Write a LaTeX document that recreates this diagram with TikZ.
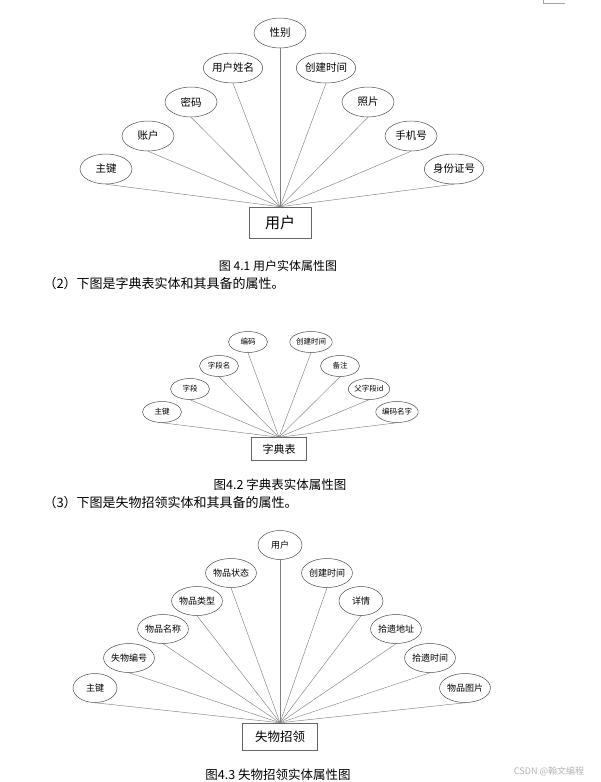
\documentclass[tikz,border=0pt]{standalone}
\usepackage{fontspec}
\setmainfont{Noto Sans CJK SC}
\usetikzlibrary{shapes.geometric}

\tikzset{
    attr/.style={ellipse, draw=black!70, line width=0.5pt, inner sep=0pt},
    ent/.style={rectangle, draw=black!60, line width=0.5pt, inner sep=0pt},
    link/.style={draw=black!50, line width=0.45pt},
    fs/.style={font=\fontsize{#1}{#1}\selectfont}
}

\begin{document}
\begin{tikzpicture}[x=1pt, y=-1pt]
        \useasboundingbox (0,0) rectangle (601,782);
        % page corner
        \path[draw, black!35](543,0)--(543,3)--(565,3);
        % user entity
        \node[ent, fs=15, minimum width=62pt, minimum height=31pt](user)at(280,222.5){用户};
        \foreach \n/\px/\py/\t in {pk/106/169/主键, acct/148/136/账户, pwd/191/102/密码,
            uname/233/68/用户姓名, sex/280/33/性别, ctime/326/68/创建时间,
            photo/368/102/照片, phone/411/136/手机号, idno/454/169/身份证号}
        {
            \node[attr, fs=10.5, minimum width=52pt, minimum height=30pt](u-\n)at(\px,\py){\t};
            \path[link](u-\n.south)to(user.north);
        }
        \node[fs=12](cap1)at(278,266){图 4.1 用户实体属性图};
        \node[fs=13, anchor=west](txt2)at(40,284){（2）下图是字典表实体和其具备的属性。};
        % dictionary entity
        \node[ent, fs=11, minimum width=55pt, minimum height=23pt](dict)at(279,449){字典表};
        \foreach \n/\px/\py/\t in {pk/162/412/主键, fld/190/389/字段, fname/219/366/字段名,
            code/248/342/编码, ctime/311/342/创建时间, note/340/366/备注,
            pid/369/389/父字段id, cname/397/412/编码名字}
        {
            \node[attr, fs=7.5, minimum width=39pt, minimum height=21pt](d-\n)at(\px,\py){\t};
            \path[link](d-\n.south)to(dict.north);
        }
        \node[fs=12.5](cap2)at(280,485){图4.2 字典表实体属性图};
        \node[fs=13, anchor=west](txt3)at(40,503){（3）下图是失物招领实体和其具备的属性。};
        % lost and found entity
        \node[ent, fs=12.5, minimum width=75pt, minimum height=27pt](lost)at(280,736.5){失物招领};
        \foreach \n/\px/\py/\t in {pk/95/688/主键, no/129/658/失物编号, gname/163/629/物品名称,
            gtype/197/601/物品类型, gstate/231/573/物品状态, user/280/545/用户,
            ctime/327/573/创建时间, detail/361/601/详情, addr/396/629/拾遗地址,
            ptime/430/658/拾遗时间, pic/465/688/物品图片}
        {
            \node[attr, fs=9, minimum width=44pt, minimum height=29pt](l-\n)at(\px,\py){\t};
            \path[link](l-\n.south)to(lost.north);
        }
        \node[fs=12.5](cap3)at(278,775){图4.3 失物招领实体属性图};
        \node[fs=9, text=black!30](mark)at(549,771){CSDN @翰文编程};
    \end{tikzpicture}
\end{document}
